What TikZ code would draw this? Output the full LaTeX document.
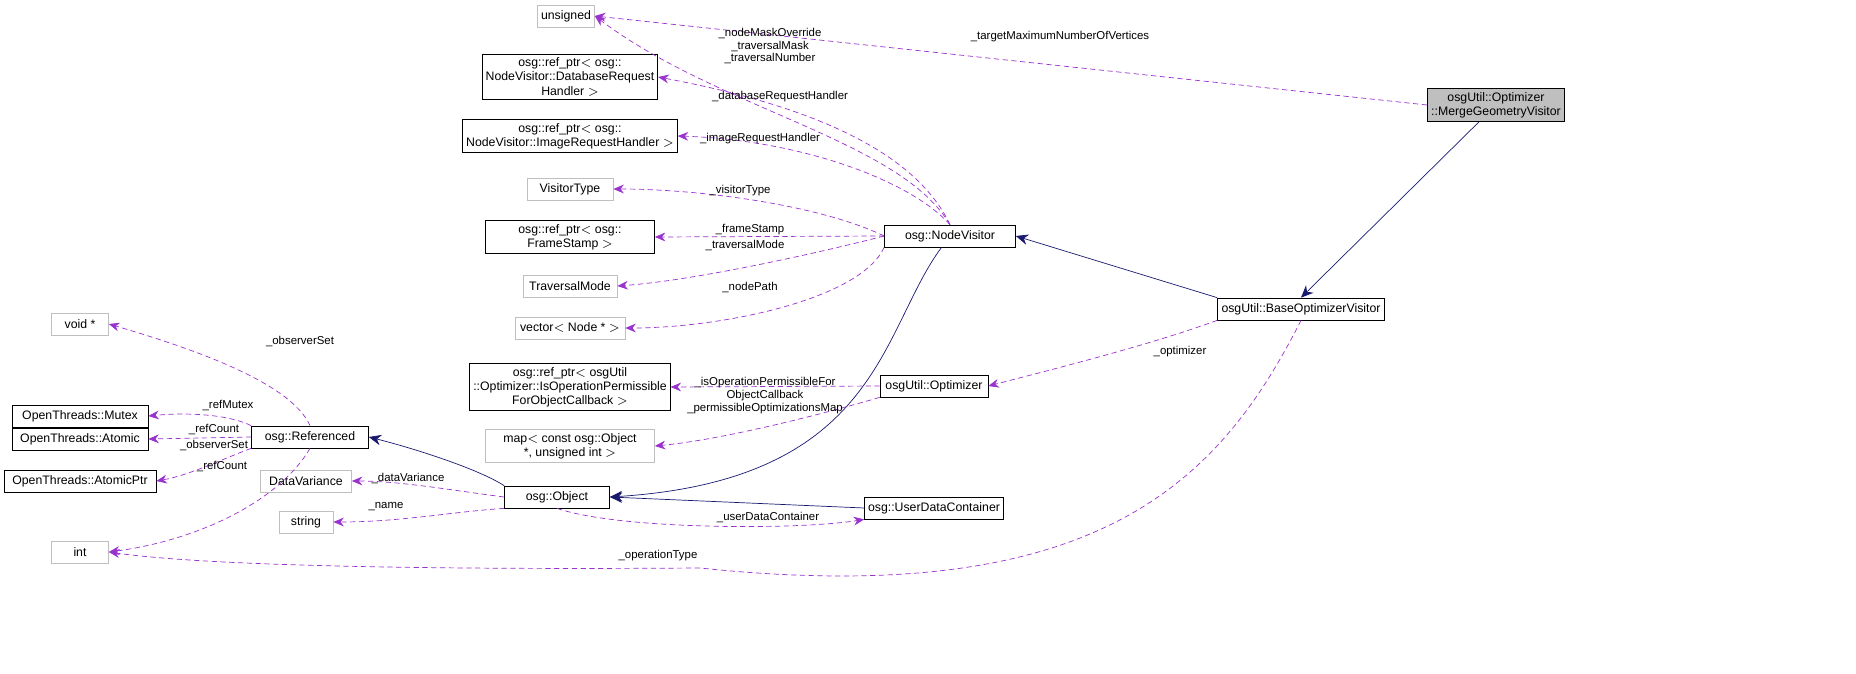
\documentclass[tikz,border=0pt]{standalone}
\usepackage{fontspec}
\setmainfont{Liberation Sans}
\usetikzlibrary{arrows.meta}
\definecolor{edgeuse}{HTML}{9A32CD}
\definecolor{edgeinh}{HTML}{191970}
\definecolor{boxgray}{HTML}{BFBFBF}
\tikzset{
  cls/.style={draw=black, fill=white, font=\fontsize{7}{8}\selectfont, align=center, inner sep=2pt, minimum height=0.44cm},
  ext/.style={cls, draw=boxgray},
  use/.style={draw=edgeuse, densely dashed, -{Stealth[length=6pt,width=5pt]}},
  inh/.style={draw=edgeinh, -{Stealth[length=7pt,width=6pt]}},
  lbl/.style={font=\fontsize{6.5}{7}\selectfont, align=center, inner sep=0pt}
}
\begin{document}
\begin{tikzpicture}[x=0.02cm,y=-0.02cm]
    \useasboundingbox (0,0) rectangle (1856,673);

    % nodes
    \node[ext, minimum width=1.14cm] (unsigned) at (566,16) {unsigned};
    \node[cls, fill=boxgray, minimum width=2.74cm] (merge) at (1496,105) {osgUtil::Optimizer\\::MergeGeometryVisitor};
    \node[cls, minimum width=3.38cm] (dbreq) at (570,77) {osg::ref\_ptr$<$ osg::\\NodeVisitor::DatabaseRequest\\Handler $>$};
    \node[cls, minimum width=4.04cm] (imgreq) at (570,136) {osg::ref\_ptr$<$ osg::\\NodeVisitor::ImageRequestHandler $>$};
    \node[ext, minimum width=1.72cm] (vtype) at (570,189) {VisitorType};
    \node[cls, minimum width=3.38cm] (fstamp) at (570,237) {osg::ref\_ptr$<$ osg::\\FrameStamp $>$};
    \node[ext, minimum width=1.88cm] (tmode) at (570,286) {TraversalMode};
    \node[ext, minimum width=2.2cm] (npath) at (570,328) {vector$<$ Node * $>$};
    \node[cls, minimum width=2.62cm] (nvis) at (950,236) {osg::NodeVisitor};
    \node[cls, minimum width=3.34cm] (bovis) at (1301,309) {osgUtil::BaseOptimizerVisitor};
    \node[cls, minimum width=3.38cm] (isop) at (570,387) {osg::ref\_ptr$<$ osgUtil\\::Optimizer::IsOperationPermissible\\ForObjectCallback $>$};
    \node[cls, minimum width=2.16cm] (opt) at (934,386) {osgUtil::Optimizer};
    \node[ext, minimum width=3.38cm] (pmap) at (570,446) {map$<$ const osg::Object\\*, unsigned int $>$};
    \node[ext, minimum width=1.14cm] (voidp) at (80,324) {void *};
    \node[cls, minimum width=2.72cm] (mutex) at (80,416) {OpenThreads::Mutex};
    \node[cls, minimum width=2.72cm] (atomic) at (80,439) {OpenThreads::Atomic};
    \node[cls, minimum width=3.04cm] (atomicp) at (80,481) {OpenThreads::AtomicPtr};
    \node[cls, minimum width=2.34cm] (ref) at (310,437) {osg::Referenced};
    \node[ext, minimum width=1.14cm] (int) at (80,552) {int};
    \node[ext, minimum width=1.82cm] (dvar) at (306,481) {DataVariance};
    \node[ext, minimum width=1.08cm] (str) at (306,522) {string};
    \node[cls, minimum width=2.1cm] (obj) at (557,497) {osg::Object};
    \node[cls, minimum width=2.74cm] (udc) at (934,508) {osg::UserDataContainer};

    % inheritance
    \draw[inh] (merge) -- (bovis.north);
    \draw[inh] (bovis.north west) -- (nvis.east);
    \draw[inh] (nvis) .. controls (880,330) and (880,480) .. (obj.east);
    \draw[inh] (udc.west) -- (obj.east);
    \draw[inh] (obj.north west) .. controls (480,470) and (420,450) .. (ref.east);

    % members
    \draw[use] (merge.west) -- (unsigned.east);
    \draw[use] (nvis.north) .. controls (900,140) and (720,110) .. (unsigned.east);
    \draw[use] (nvis.north) .. controls (910,140) and (780,100) .. (dbreq.east);
    \draw[use] (nvis.north) .. controls (910,180) and (800,140) .. (imgreq.east);
    \draw[use] (nvis.west) .. controls (820,205) and (700,189) .. (vtype.east);
    \draw[use] (nvis.west) -- (fstamp.east);
    \draw[use] (nvis.west) .. controls (830,250) and (700,280) .. (tmode.east);
    \draw[use] (nvis.south west) .. controls (860,300) and (720,328) .. (npath.east);
    \draw[use] (bovis.south west) .. controls (1150,345) and (1050,370) .. (opt.east);
    \draw[use] (opt.west) -- (isop.east);
    \draw[use] (opt.south west) .. controls (820,415) and (720,440) .. (pmap.east);
    \draw[use] (ref.north) .. controls (290,380) and (180,345) .. (voidp.east);
    \draw[use] (ref.north west) .. controls (230,415) and (190,412) .. (mutex.east);
    \draw[use] (ref.west) -- (atomic.east);
    \draw[use] (ref.south west) .. controls (220,460) and (190,475) .. (atomicp.east);
    \draw[use] (ref.south) .. controls (280,500) and (200,540) .. (int.east);
    \draw[use] (obj.west) .. controls (450,490) and (400,481) .. (dvar.east);
    \draw[use] (obj.south west) .. controls (450,512) and (400,522) .. (str.east);
    \draw[use] (obj.south) .. controls (620,530) and (800,530) .. (udc.south west);
    \draw[use] (bovis.south) .. controls (1220,480) and (1100,610) .. (700,568) .. controls (400,570) and (200,565) .. (int.east);

    % labels
    \node[lbl] (ltarget) at (1060,37) {\_targetMaximumNumberOfVertices};
    \node[lbl] (lmask) at (770,46) {\_nodeMaskOverride\\\_traversalMask\\\_traversalNumber};
    \node[lbl] (ldb) at (780,97) {\_databaseRequestHandler};
    \node[lbl] (limg) at (760,139) {\_imageRequestHandler};
    \node[lbl] (lvtype) at (740,191) {\_visitorType};
    \node[lbl] (lfstamp) at (750,230) {\_frameStamp};
    \node[lbl] (ltmode) at (745,245) {\_traversalMode};
    \node[lbl] (lnpath) at (750,287) {\_nodePath};
    \node[lbl] (lopt) at (1180,352) {\_optimizer};
    \node[lbl] (lisop) at (765,389) {\_isOperationPermissibleFor\\ObjectCallback};
    \node[lbl] (lpmap) at (765,409) {\_permissibleOptimizationsMap};
    \node[lbl] (lobs1) at (300,341) {\_observerSet};
    \node[lbl] (lmutex) at (228,405) {\_refMutex};
    \node[lbl] (lrc1) at (214,429) {\_refCount};
    \node[lbl] (lobs2) at (214,445) {\_observerSet};
    \node[lbl] (lrc2) at (222,466) {\_refCount};
    \node[lbl] (ldvar) at (408,478) {\_dataVariance};
    \node[lbl] (lname) at (386,507) {\_name};
    \node[lbl] (ludc) at (768,517) {\_userDataContainer};
    \node[lbl] (lotype) at (658,556) {\_operationType};
\end{tikzpicture}
\end{document}
